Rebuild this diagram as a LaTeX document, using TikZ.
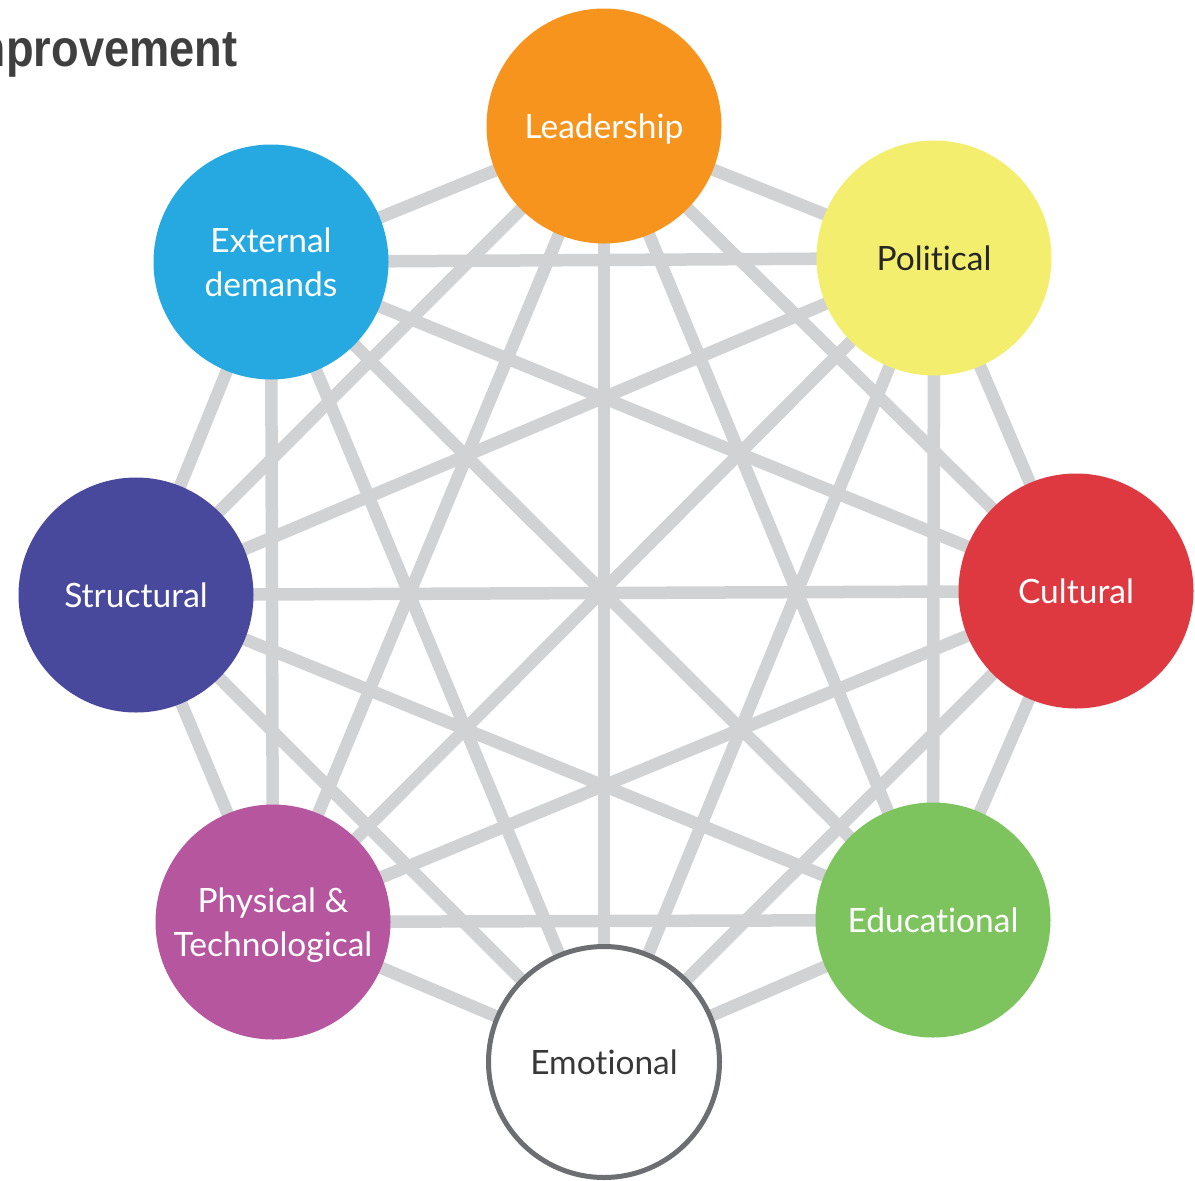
\documentclass[tikz,border=0pt]{standalone}
\usepackage{fontspec}
\setmainfont{Lato}[Ligatures=NoCommon]
\newfontfamily\headfont[FakeStretch=0.87]{Liberation Sans}
\usetikzlibrary{backgrounds}
\definecolor{linkgray}{HTML}{D1D2D4}
\definecolor{leadcol}{HTML}{F7941E}
\definecolor{polcol}{HTML}{F3EE6E}
\definecolor{cultcol}{HTML}{DE3841}
\definecolor{educol}{HTML}{7DC35E}
\definecolor{emocol}{HTML}{6D6E71}
\definecolor{physcol}{HTML}{B5569F}
\definecolor{struccol}{HTML}{48489C}
\definecolor{extcol}{HTML}{25A9E0}
\definecolor{headcol}{HTML}{3F3F3F}
\tikzset{
  disc/.style={circle, minimum size=235pt, inner sep=0pt, text=white,
    font=\fontsize{33.5}{44}\selectfont, align=center, text depth=0pt},
  link/.style={draw=linkgray, line width=12.5pt}
}
\begin{document}
\begin{tikzpicture}[x=1pt,y=-1pt]
\useasboundingbox (0,0) rectangle (1195,1181);
\node[anchor=base east, text=headcol, font=\headfont\bfseries\fontsize{52}{52}\selectfont] (head) at (241,66) {Improvement};

\node[disc, fill=leadcol] (lead) at (604,126) {Leadership};
\node[disc, fill=polcol, text=black!85] (pol) at (934,258) {Political};
\node[disc, fill=cultcol] (cult) at (1076,591) {Cultural};
\node[disc, fill=educol] (edu) at (933,920) {Educational};
\node[disc, fill=white, draw=emocol, line width=5pt, minimum size=231pt, text=black!78] (emo) at (604,1062) {Emotional};
\node[disc, fill=physcol] (phys) at (273,922) {Physical \&\\Technological};
\node[disc, fill=struccol] (struc) at (136,595) {Structural};
\node[disc, fill=extcol] (ext) at (271,262) {External\\demands};

% every factor is joined to every other one
\begin{pgfonlayer}{background}
\foreach \a [count=\i] in {lead,pol,cult,edu,emo,phys,struc,ext}
  \foreach \b [count=\j] in {lead,pol,cult,edu,emo,phys,struc,ext}
    {\ifnum\j>\i \draw[link] (\a.center) -- (\b.center); \fi}
\end{pgfonlayer}
\end{tikzpicture}
\end{document}
